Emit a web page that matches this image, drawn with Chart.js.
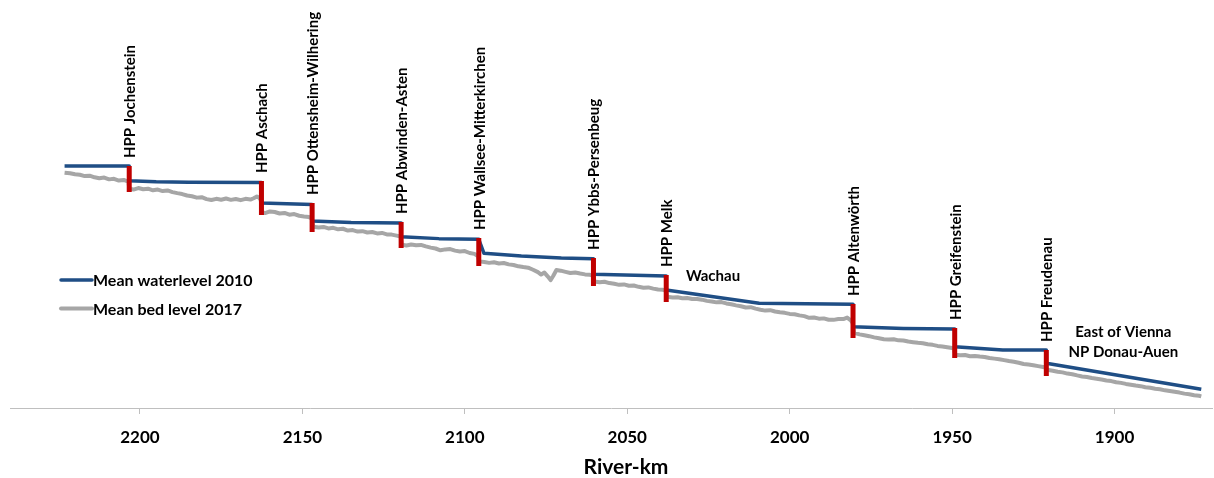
<!DOCTYPE html>
<html><head><meta charset="utf-8">
<script src="https://cdn.jsdelivr.net/npm/chart.js@4"></script>
<style>html,body{margin:0;padding:0;background:#fff}#c{display:block}</style>
</head><body><canvas id="c" width="1214" height="478"></canvas>
<script>
const xTicks = [2200, 2150, 2100, 2050, 2000, 1950, 1900];
const xTitle = 'River-km';

const waterKm = [2223.2, 2203.3, 2203.3, 2195, 2185, 2162.6, 2162.6, 2147, 2147, 2135, 2119.6, 2119.6, 2108, 2095.7, 2094.1, 2082.6, 2070.3, 2060.4, 2060.4, 2038.0, 2038.0, 2009.4, 1980.5, 1980.5, 1965, 1949.2, 1949.2, 1934.4, 1921.0, 1921.0, 1873.3];
const waterLevel = [289.7, 289.7, 279.9, 279.2, 278.9, 278.7, 265.0, 264.0, 253.0, 252.0, 251.6, 242.5, 241.2, 240.7, 231.4, 229.6, 228.3, 227.8, 217.4, 216.2, 206.9, 198.0, 197.3, 182.3, 181.2, 180.8, 169.0, 166.8, 166.8, 157.9, 140.5];

const bedKm = [2223.2,2221.5,2220,2218.5,2217,2215.5,2214,2212.5,2211,2209.5,2208,2206.5,2205,2203.6,
2203.2,2202,2200.5,2199,2197.5,2196,2194.5,2193,2191.5,2190,2188.5,2187,2185.5,2184,2182.5,2181,2179.5,2178,2176.5,2175,2173.5,2172,2170.5,2169,2167.5,2166,2165,2164,2163.3,2162.8,
2162.5,2161.5,2160,2158.5,2157,2155.5,2154,2152.5,2151,2149.5,2148,2147.1,
2146.7,2145,2143.5,2142,2140.5,2139,2137.5,2136,2134.5,2133,2131.5,2130,2128.5,2127,2125.5,2124,2122.5,2121,2119.8,
2119.4,2118,2116.5,2115,2113.5,2112,2110.5,2109,2107.5,2106,2104.5,2103,2101.5,2100,2098.5,2097,2095.9,
2095.5,2094,2092.5,2091,2089.5,2088,2086.5,2085,2083.5,2082,2080.5,2079,2077.5,2076.5,2075.5,2074.5,2073.6,2072.8,2071.8,2070.5,2069,2067.5,2066,2064.5,2063,2061.5,2060.6,
2060.2,2058.5,2057,2055.5,2054,2052.5,2051,2049.5,2048,2046.5,2045,2043.5,2042,2040.5,2039,2038.2,
2037.8,2036,2034.5,2033,2031.5,2030,2028.5,2027,2025.5,2024,2022.5,2021,2019.5,2018,2016.5,2015,2013.5,2012,2010.5,2009,2007.5,2006,2004.5,2003,2001.5,2000,1998.5,1997,1995.5,1994,1992.5,1991,1989.5,1988,1986.5,1985,1983.5,1982.3,1981.2,1980.6,
1980.2,1978.5,1977,1975.5,1974,1972.5,1971,1969.5,1968,1966.5,1965,1963.5,1962,1960.5,1959,1957.5,1956,1954.5,1953,1951.5,1950,1949.4,
1949.0,1947.5,1946,1944.5,1943,1941.5,1940,1938.5,1937,1935.5,1934,1932.5,1931,1929.5,1928,1926.5,1925,1923.5,1922,1921.2,
1920.8,1919,1917.5,1916,1914.5,1913,1911.5,1910,1908.5,1907,1905.5,1904,1902.5,1901,1899.5,1898,1896.5,1895,1893.5,1892,1890.5,1889,1887.5,1886,1884.5,1883,1881.5,1880,1878.5,1877,1875.5,1874,1873.3];
const bedLevel = [285.3,284.9,284.2,283.9,283.0,283.3,282.2,281.6,282.0,280.8,281.2,280.0,280.4,279.3,
274.5,274.0,275.0,274.2,274.6,273.5,274.0,273.0,273.4,272.3,271.6,271.0,270.0,269.5,268.6,268.9,267.6,267.0,267.8,267.2,268.0,267.1,267.7,266.9,267.8,267.3,268.2,269.4,268.5,267.0,
259.0,258.3,259.4,259.0,258.0,258.4,257.2,257.6,256.5,256.0,255.6,254.8,
249.2,248.6,249.0,248.0,248.4,247.4,247.8,246.6,246.9,245.9,246.2,245.3,245.6,244.7,245.0,244.0,243.9,243.2,242.6,
237.2,236.6,237.3,236.8,237.0,236.0,235.2,234.6,233.4,234.0,234.2,233.2,232.6,232.9,231.6,231.0,229.3,
226.0,225.6,225.0,225.4,224.6,224.9,224.0,223.6,222.7,222.2,221.8,220.4,218.8,217.2,218.5,216.0,213.5,216.2,220.2,219.8,219.0,218.2,218.6,217.9,217.3,217.0,216.5,
212.6,212.0,212.4,211.5,211.0,210.3,210.6,209.7,209.9,209.0,208.4,208.6,207.8,207.2,207.0,206.4,
202.4,201.8,202.0,201.3,201.5,200.8,200.9,200.4,199.6,199.2,198.6,198.8,197.9,197.3,196.6,196.0,195.2,195.4,194.4,193.7,193.1,193.4,192.5,192.0,191.6,190.9,190.7,189.9,189.4,188.3,188.5,187.7,187.9,187.0,186.9,187.5,187.4,188.4,186.6,184.8,
178.3,177.2,176.6,176.0,175.2,174.6,174.0,173.8,173.9,173.2,173.1,172.4,172.0,171.6,171.3,170.6,170.2,169.5,169.1,168.6,168.1,167.6,
163.6,163.2,163.4,162.6,162.8,162.4,162.1,161.4,161.0,160.6,160.0,159.4,158.9,158.2,157.4,157.0,156.6,156.0,155.4,155.1,
153.5,152.9,152.2,151.8,151.0,150.6,149.8,149.1,148.7,148.0,147.6,147.0,146.4,146.0,145.2,144.8,144.1,143.6,143.0,142.6,141.9,141.5,140.9,140.5,139.8,139.3,138.8,138.3,137.6,137.2,136.5,136.2,135.8];

const hppNames = ['HPP Jochenstein','HPP Aschach','HPP Ottensheim-Wilhering','HPP Abwinden-Asten','HPP Wallsee-Mitterkirchen','HPP Ybbs-Persenbeug','HPP Melk','HPP Altenwörth','HPP Greifenstein','HPP Freudenau'];
const hppKm = [2203.3, 2162.6, 2147.0, 2119.6, 2095.7, 2060.4, 2038.0, 1980.5, 1949.2, 1921.0];
const hppTop = [289.7, 279.7, 265.0, 252.3, 241.6, 228.3, 216.9, 197.5, 181.5, 166.8];
const hppBottom = [272.4, 257.0, 245.6, 234.9, 222.9, 209.5, 198.8, 174.8, 161.4, 149.4];

const noteText = ['Wachau', 'East of Vienna', 'NP Donau-Auen'];
const noteKm = [2023.6, 1897.3, 1897.3];
const noteLevel = [216.2, 178.8, 165.4];

const seriesNames = ['Mean waterlevel 2010', 'Mean bed level 2017'];
const BLUE = '#1f4e85', GREY = '#a6a6a6', RED = '#c00000';
const FONT = 'Lato, Carlito, "Liberation Sans", sans-serif';

const redData = [];
hppKm.forEach((k, i) => {
  redData.push({x: k, y: hppTop[i]}, {x: k, y: hppBottom[i]}, {x: k, y: null});
});

const labelsPlugin = {
  id: 'labels',
  afterDatasetsDraw(chart) {
    const {ctx, scales: {x, y}, chartArea} = chart;
    ctx.save();
    ctx.fillStyle = '#000';
    ctx.font = 'bold 15px ' + FONT;
    hppNames.forEach((n, i) => {
      const px = x.getPixelForValue(hppKm[i]);
      const py = y.getPixelForValue(hppTop[i]) - 8;
      ctx.save();
      ctx.translate(px + 1, py);
      ctx.rotate(-Math.PI / 2);
      ctx.textAlign = 'left';
      ctx.textBaseline = 'middle';
      ctx.fillText(n, 0, 0);
      ctx.restore();
    });
    ctx.textAlign = 'center';
    ctx.textBaseline = 'middle';
    noteText.forEach((t, i) => {
      ctx.fillText(t, x.getPixelForValue(noteKm[i]), y.getPixelForValue(noteLevel[i]));
    });
    // axis title (centred slightly right of the plot centre, as in the original)
    ctx.font = 'bold 21px ' + FONT;
    ctx.fillText(xTitle, (chartArea.left + chartArea.right) / 2 + 15, 467);
    // legend
    const cols = [BLUE, GREY], widths = [3.5, 4];
    seriesNames.forEach((s, i) => {
      const ly = 280 + i * 28.5;
      const lx = chartArea.left + 51;
      ctx.strokeStyle = cols[i];
      ctx.lineWidth = widths[i];
      ctx.lineCap = 'round';
      ctx.beginPath(); ctx.moveTo(lx, ly); ctx.lineTo(lx + 31, ly); ctx.stroke();
      ctx.textAlign = 'left';
      ctx.font = 'bold 16px ' + FONT;
      ctx.fillText(s, lx + 32, ly + 1);
    });
    ctx.restore();
  }
};

new Chart(document.getElementById('c'), {
  type: 'line',
  data: {
    datasets: [
      {label: 'HPP', data: redData, borderColor: RED, borderWidth: 5, pointRadius: 0, spanGaps: false, order: 0},
      {label: seriesNames[0], data: waterKm.map((k, i) => ({x: k, y: waterLevel[i]})), borderColor: BLUE, borderWidth: 3.5, pointRadius: 0, borderJoinStyle: 'round', order: 1},
      {label: seriesNames[1], data: bedKm.map((k, i) => ({x: k, y: bedLevel[i]})), borderColor: GREY, borderWidth: 4, pointRadius: 0, borderJoinStyle: 'round', order: 2}
    ]
  },
  options: {
    responsive: false,
    animation: false,
    devicePixelRatio: 1,
    layout: {padding: {top: 10, left: 10, right: 2, bottom: 0}},
    plugins: {legend: {display: false}, tooltip: {enabled: false}},
    scales: {
      x: {
        type: 'linear', reverse: true, min: 1870, max: 2240,
        afterBuildTicks: (s) => { s.ticks = xTicks.map(v => ({value: v})); },
        afterFit: (s) => { s.height = 70; },
        grid: {drawOnChartArea: false, drawTicks: true, tickLength: 6, color: '#bfbfbf'},
        border: {display: true, color: '#bfbfbf', width: 1},
        ticks: {padding: 13, color: '#000', callback: (v) => String(v), font: {family: FONT, size: 17, weight: 'bold'}, maxRotation: 0, autoSkip: false},
        title: {display: false}
      },
      y: {type: 'linear', display: false, min: 128, max: 394}
    }
  },
  plugins: [labelsPlugin]
});
</script>
</body></html>
